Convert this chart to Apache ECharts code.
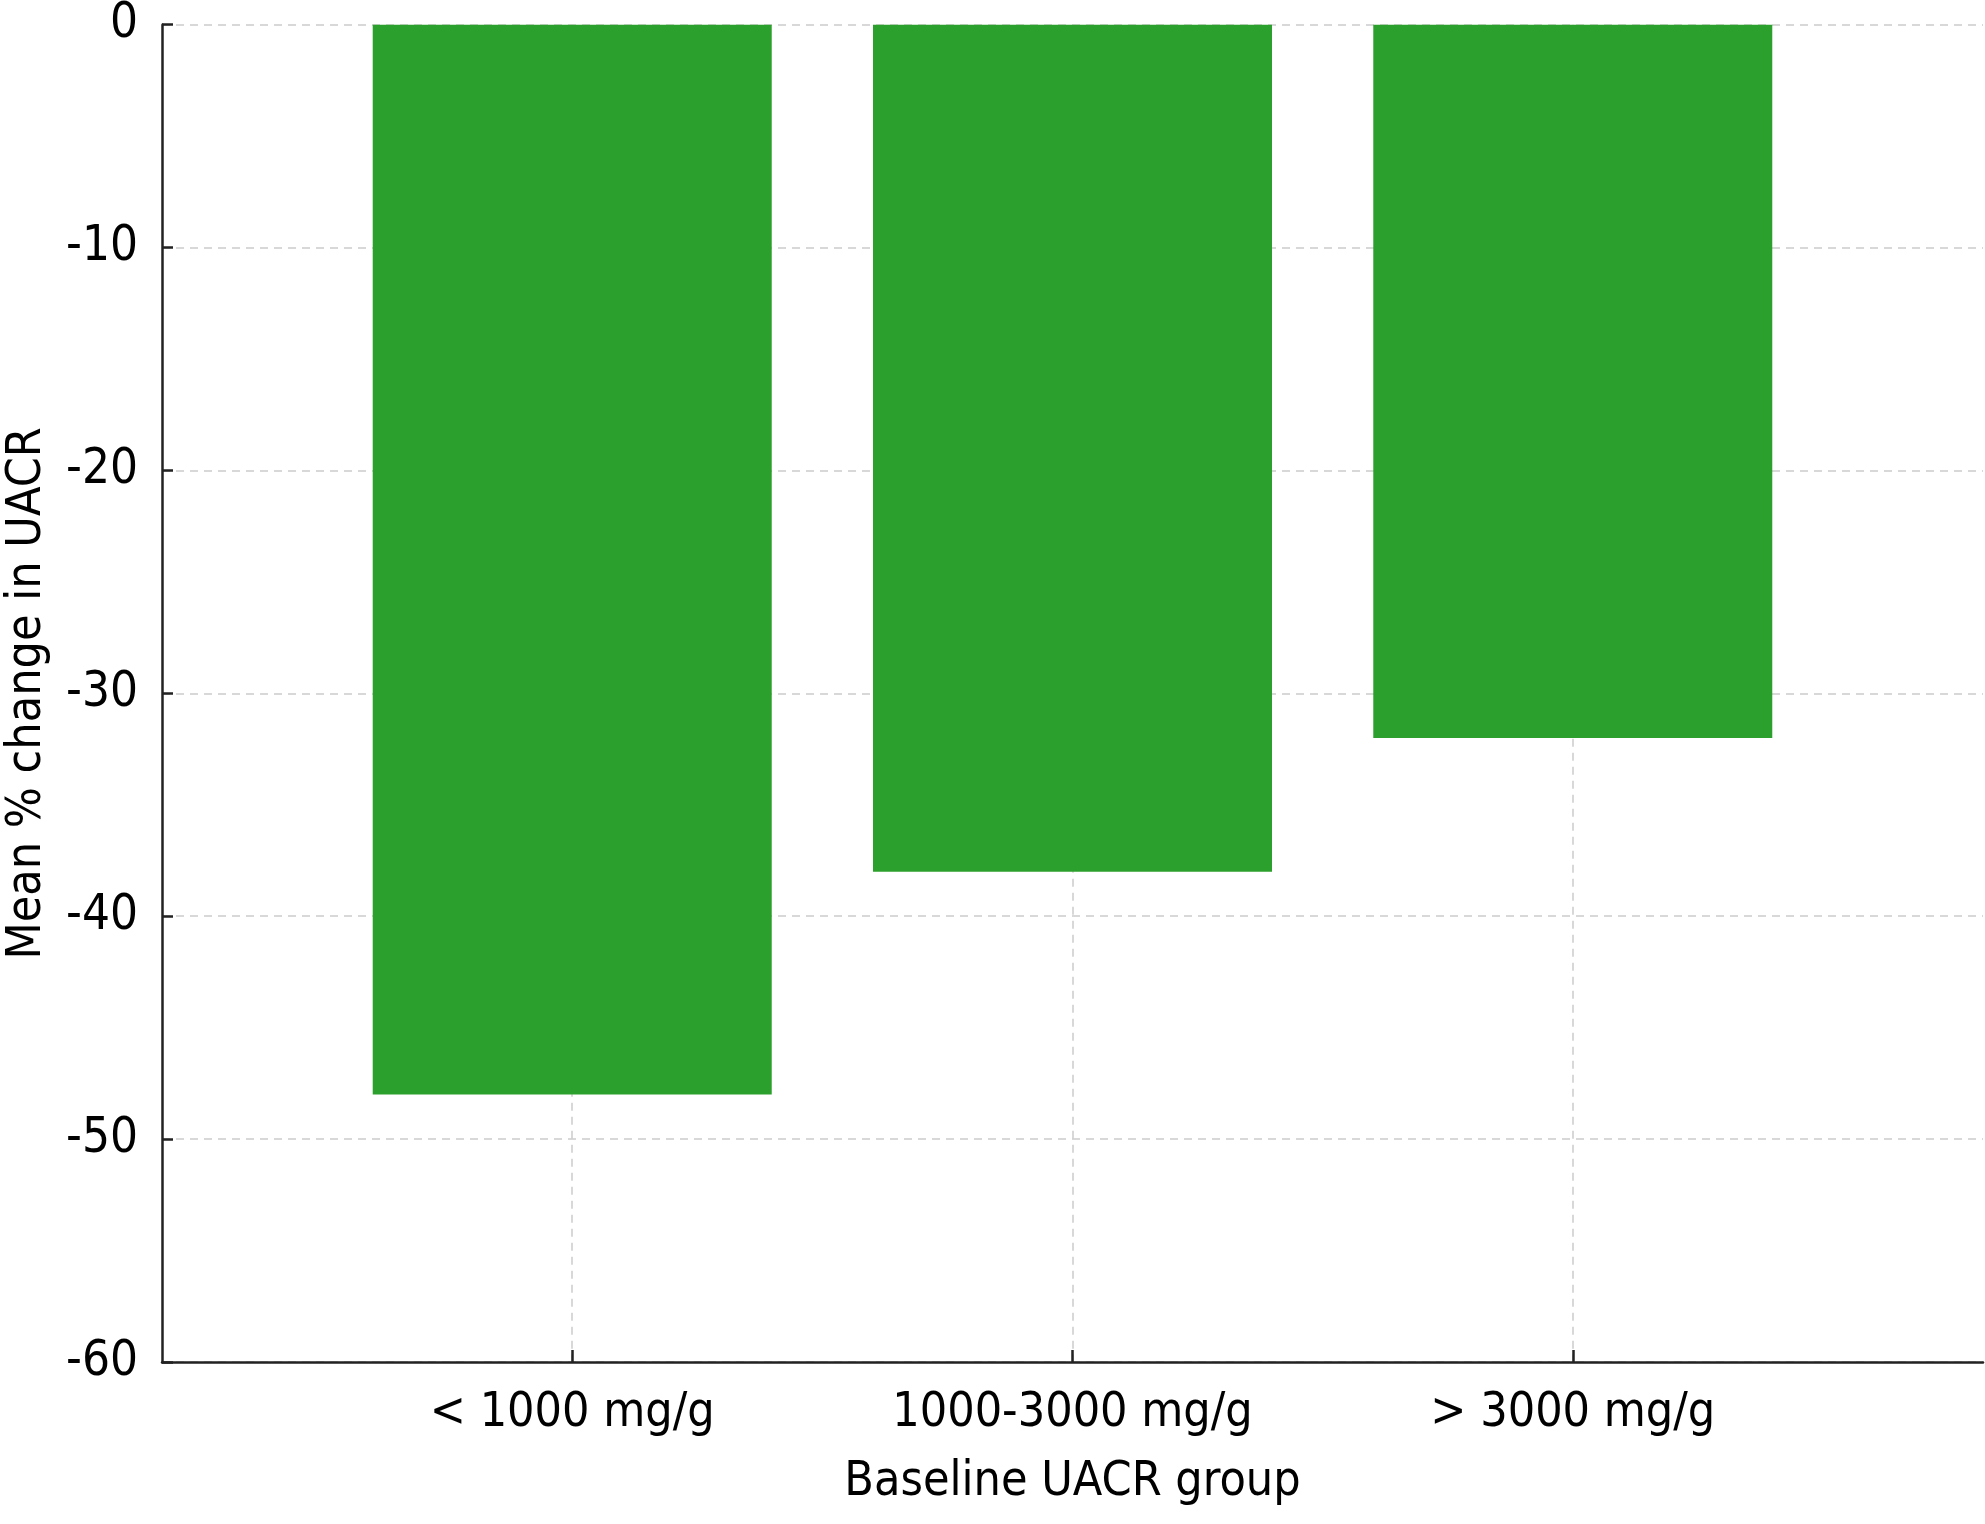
<!DOCTYPE html>
<html>
<head>
<meta charset="utf-8">
<script src="https://cdn.jsdelivr.net/npm/echarts@6/dist/echarts.min.js"></script>
<style>html,body{margin:0;padding:0;background:#fff}#c{width:1985px;height:1524px}</style>
</head>
<body>
<div id="c"></div>
<script>
const categories = ['< 1000 mg/g', '1000-3000 mg/g', '> 3000 mg/g'];
const values = [-48, -38, -32];
const yTicks = [0, -10, -20, -30, -40, -50, -60];

const FONT = 'DejaVu Sans Condensed';
const chart = echarts.init(document.getElementById('c'));
const catIdx = categories.map((_, i) => i);
chart.setOption({
  animation: false,
  backgroundColor: '#fff',
  grid: { left: 162, right: 2, top: 24.7, bottom: 162, containLabel: false, outerBoundsMode: 'none' },
  xAxis: {
    type: 'value',
    min: -0.82, max: 2.82,
    name: 'Baseline UACR group',
    nameLocation: 'middle',
    nameGap: 97,
    nameTextStyle: { fontFamily: FONT, fontSize: 48, color: '#000' },
    axisLine: { show: true, onZero: false, lineStyle: { color: '#222', width: 2.5 } },
    axisTick: { show: true, inside: true, length: 12, customValues: catIdx, lineStyle: { color: '#222', width: 2.5 } },
    axisLabel: { customValues: catIdx, fontFamily: FONT, fontSize: 48, color: '#000', margin: 28,
      formatter: v => categories[Math.round(v)] },
    splitLine: { show: true, lineStyle: { color: '#cccccc', type: [8, 6], width: 1.5 } }
  },
  yAxis: {
    type: 'value',
    min: -60, max: 0, interval: 10,
    name: 'Mean % change in UACR',
    nameLocation: 'middle',
    nameGap: 110,
    nameTextStyle: { fontFamily: FONT, fontSize: 48, color: '#000' },
    axisLine: { show: true, onZero: false, lineStyle: { color: '#222', width: 2.5 } },
    axisTick: { show: true, inside: true, length: 11, lineStyle: { color: '#222', width: 2.5 } },
    axisLabel: { fontFamily: FONT, fontSize: 49, color: '#000', margin: 24, padding: [9, 0, 0, 0],
      formatter: v => yTicks.includes(v) ? String(v) : '' },
    splitLine: { show: true, lineStyle: { color: '#cccccc', type: [8, 6], width: 1.5 } }
  },
  series: [{
    type: 'bar',
    data: values.map((v, i) => [catIdx[i], v]),
    barWidth: 399,
    itemStyle: { color: '#2ca02c' },
    z: 1
  }]
});
</script>
</body>
</html>
